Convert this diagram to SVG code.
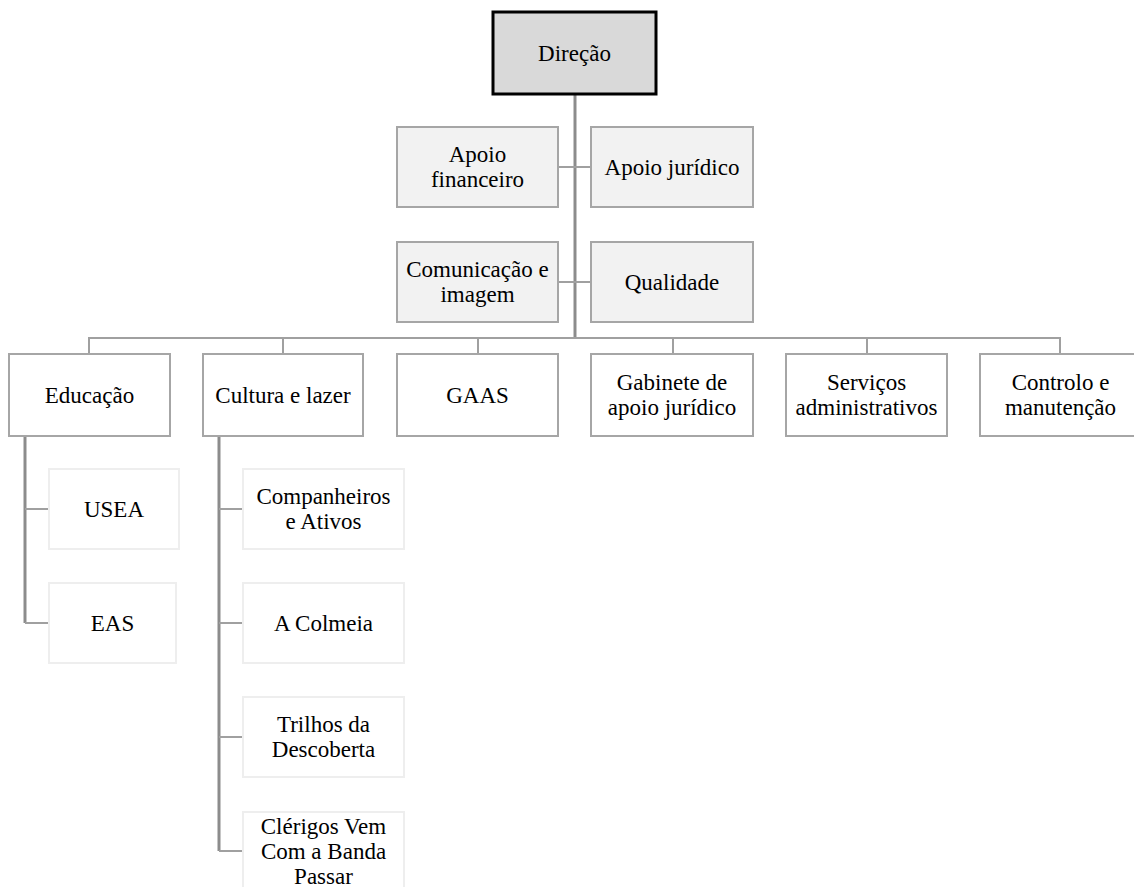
<svg xmlns="http://www.w3.org/2000/svg" width="1134" height="887" viewBox="0 0 1134 887">
<style>
text{font-family:'Liberation Serif','Times New Roman','DejaVu Serif',serif;font-size:23px;fill:#000;text-anchor:middle}
.top{fill:#d9d9d9;stroke:#000;stroke-width:3}
.staff{fill:#f2f2f2;stroke:#a6a6a6;stroke-width:2}
.unit{fill:#fff;stroke:#a6a6a6;stroke-width:2}
.sub{fill:#fff;stroke:#eeeeee;stroke-width:2}
.ln{fill:none;stroke:#8c8c8c;stroke-width:3}
.ln2{fill:none;stroke:#a0a0a0;stroke-width:2}
</style>
<rect width="1134" height="887" fill="#fff"/>
<g id="connectors">
<path class="ln" d="M575 94V339"/>
<path class="ln2" d="M558 167H591M558 282H591"/>
<path class="ln2" d="M89 354V338H1060V354M283 338V354M478 338V354M673 338V354M867 338V354"/>
<path class="ln" d="M25 436V623"/>
<path class="ln2" d="M25 509H49M25 623H49"/>
<path class="ln" d="M219 436V851"/>
<path class="ln2" d="M219 509H243M219 623H243M219 737H243M219 851H243"/>
</g>
<g font-family="Liberation Serif, serif">
<g id="direcao"><rect class="top" x="493" y="12" width="163" height="82"/><text x="574.5" y="61">Direção</text></g>
<g id="apoio-financeiro"><rect class="staff" x="397" y="127" width="161" height="80"/><text x="477.5" y="162">Apoio</text><text x="477.5" y="187">financeiro</text></g>
<g id="apoio-juridico"><rect class="staff" x="591" y="127" width="162" height="80"/><text x="672" y="175">Apoio jurídico</text></g>
<g id="comunicacao"><rect class="staff" x="397" y="242" width="161" height="80"/><text x="477.5" y="277">Comunicação e</text><text x="477.5" y="302">imagem</text></g>
<g id="qualidade"><rect class="staff" x="591" y="242" width="162" height="80"/><text x="672" y="290">Qualidade</text></g>
<g id="educacao"><rect class="unit" x="9" y="354" width="161" height="82"/><text x="89.5" y="403">Educação</text></g>
<g id="cultura"><rect class="unit" x="203" y="354" width="160" height="82"/><text x="283" y="403">Cultura e lazer</text></g>
<g id="gaas"><rect class="unit" x="397" y="354" width="161" height="82"/><text x="477.5" y="403">GAAS</text></g>
<g id="gabinete"><rect class="unit" x="591" y="354" width="162" height="82"/><text x="672" y="390">Gabinete de</text><text x="672" y="415">apoio jurídico</text></g>
<g id="servicos"><rect class="unit" x="786" y="354" width="161" height="82"/><text x="866.5" y="390">Serviços</text><text x="866.5" y="415">administrativos</text></g>
<g id="controlo"><rect class="unit" x="980" y="354" width="161" height="82"/><text x="1060.5" y="390">Controlo e</text><text x="1060.5" y="415">manutenção</text></g>
<g id="usea"><rect class="sub" x="49" y="469" width="130" height="80"/><text x="114" y="517">USEA</text></g>
<g id="eas"><rect class="sub" x="49" y="583" width="127" height="80"/><text x="112.5" y="631">EAS</text></g>
<g id="companheiros"><rect class="sub" x="243" y="469" width="161" height="80"/><text x="323.5" y="504">Companheiros</text><text x="323.5" y="529">e Ativos</text></g>
<g id="colmeia"><rect class="sub" x="243" y="583" width="161" height="80"/><text x="323.5" y="631">A Colmeia</text></g>
<g id="trilhos"><rect class="sub" x="243" y="697" width="161" height="80"/><text x="323.5" y="732">Trilhos da</text><text x="323.5" y="757">Descoberta</text></g>
<g id="clerigos"><rect class="sub" x="243" y="812" width="161" height="82"/><text x="323.5" y="834">Clérigos Vem</text><text x="323.5" y="859">Com a Banda</text><text x="323.5" y="884">Passar</text></g>
</g>
</svg>
